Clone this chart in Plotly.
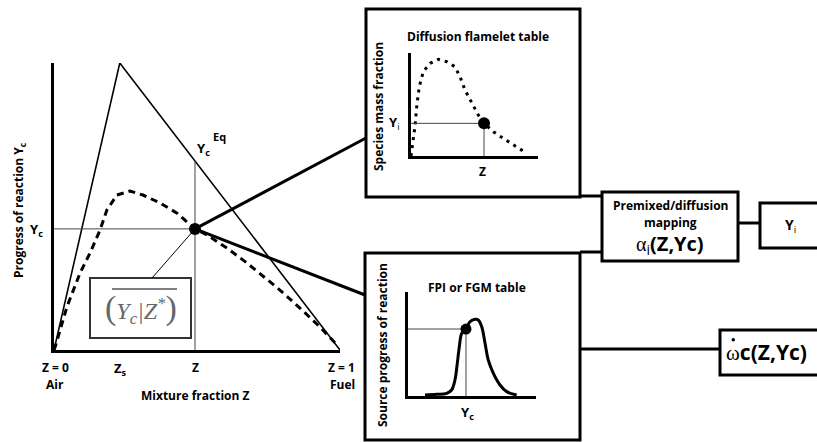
import plotly.graph_objects as go

W, H = 817, 442

# ---------------- data ----------------
# main diagram: equilibrium (triangle) line and the mixing/progress curve
eq_z = [0.0, 0.23, 1.0]
eq_yc = [0.0, 1.0, 0.0]
curve_z = [0.0, 0.004, 0.045, 0.091, 0.126, 0.161, 0.185, 0.220, 0.266, 0.311, 0.371,
           0.430, 0.476, 0.493, 0.535, 0.605, 0.675, 0.745, 0.790, 0.860, 0.930, 0.990]
curve_yc = [0.0, 0.010, 0.150, 0.268, 0.338, 0.418, 0.488, 0.540, 0.554, 0.540, 0.512,
            0.477, 0.436, 0.422, 0.401, 0.355, 0.303, 0.244, 0.209, 0.146, 0.080, 0.017]
point_z, point_yc = 0.493, 0.422

# diffusion flamelet table (species mass fraction vs Z)
fl_z = [0.0, 0.005, 0.018, 0.031, 0.045, 0.065, 0.097, 0.150, 0.215, 0.281, 0.346, 0.386,
        0.425, 0.465, 0.530, 0.575, 0.648, 0.727, 0.806, 0.911]
fl_y = [0.0, 0.042, 0.155, 0.284, 0.479, 0.673, 0.819, 0.900, 0.939, 0.915, 0.867, 0.770,
        0.641, 0.544, 0.398, 0.317, 0.236, 0.171, 0.107, 0.026]
fl_pt = (0.575, 0.317)

# FPI / FGM table (source term vs Yc)
fpi_x = [0.133, 0.224, 0.302, 0.341, 0.367, 0.385, 0.401, 0.420, 0.453, 0.484, 0.523,
         0.549, 0.576, 0.602, 0.627, 0.667, 0.719, 0.771, 0.849]
fpi_y = [0.010, 0.016, 0.026, 0.058, 0.154, 0.314, 0.474, 0.603, 0.644, 0.714, 0.737,
         0.731, 0.667, 0.506, 0.346, 0.218, 0.106, 0.042, 0.010]
fpi_pt = (0.453, 0.644)

# ---------------- layout helpers (pixel geometry) ----------------
def px(x):
    return x / W

def py(y):
    return 1 - y / H

MAIN = dict(x0=54, x1=340, y0=350, y1=63)      # pixel box of main axes
TOP = dict(x0=411, x1=538, y0=156, y1=53)
BOT = dict(x0=408, x1=536, y0=396, y1=292)

def dom(b):
    return [px(b["x0"]), px(b["x1"])], [py(b["y0"]), py(b["y1"])]

def to_paper(b, x, y):
    X = b["x0"] + x * (b["x1"] - b["x0"])
    Y = b["y0"] + y * (b["y1"] - b["y0"])
    return px(X), py(Y)

FONT = "'Open Sans', 'Noto Sans', sans-serif"
SERIF = "'Liberation Serif', 'DejaVu Serif', serif"
BLACK = "#000"
GREY = "#444"

fig = go.Figure()

# main traces
fig.add_trace(go.Scatter(x=eq_z, y=eq_yc, mode="lines", line=dict(color=BLACK, width=1.6),
                         xaxis="x", yaxis="y", cliponaxis=False, hoverinfo="skip"))
fig.add_trace(go.Scatter(x=curve_z, y=curve_yc, mode="lines",
                         line=dict(color=BLACK, width=3, dash="7px,5px"),
                         xaxis="x", yaxis="y", cliponaxis=False, hoverinfo="skip"))
eq_at_point = 1 - (point_z - eq_z[1]) / (eq_z[2] - eq_z[1])
fig.add_trace(go.Scatter(x=[point_z, point_z], y=[0, eq_at_point], mode="lines",
                         line=dict(color=GREY, width=1), xaxis="x", yaxis="y", hoverinfo="skip"))
fig.add_trace(go.Scatter(x=[0, point_z], y=[point_yc, point_yc], mode="lines",
                         line=dict(color=GREY, width=1), xaxis="x", yaxis="y", hoverinfo="skip"))
fig.add_trace(go.Scatter(x=[point_z], y=[point_yc], mode="markers",
                         marker=dict(color=BLACK, size=12), xaxis="x", yaxis="y",
                         cliponaxis=False, hoverinfo="skip"))

# flamelet inset
fig.add_trace(go.Scatter(x=fl_z, y=fl_y, mode="lines",
                         line=dict(color=BLACK, width=3, dash="3px,5px"),
                         xaxis="x2", yaxis="y2", cliponaxis=False, hoverinfo="skip"))
fig.add_trace(go.Scatter(x=[0, fl_pt[0], fl_pt[0]], y=[fl_pt[1], fl_pt[1], 0], mode="lines",
                         line=dict(color=GREY, width=1), xaxis="x2", yaxis="y2", hoverinfo="skip"))
fig.add_trace(go.Scatter(x=[fl_pt[0]], y=[fl_pt[1]], mode="markers",
                         marker=dict(color=BLACK, size=12), xaxis="x2", yaxis="y2",
                         cliponaxis=False, hoverinfo="skip"))

# FPI inset
fig.add_trace(go.Scatter(x=fpi_x, y=fpi_y, mode="lines", line=dict(color=BLACK, width=3, shape="spline"),
                         xaxis="x3", yaxis="y3", cliponaxis=False, hoverinfo="skip"))
fig.add_trace(go.Scatter(x=[0, fpi_pt[0], fpi_pt[0]], y=[fpi_pt[1], fpi_pt[1], 0], mode="lines",
                         line=dict(color=GREY, width=1), xaxis="x3", yaxis="y3", hoverinfo="skip"))
fig.add_trace(go.Scatter(x=[fpi_pt[0]], y=[fpi_pt[1]], mode="markers",
                         marker=dict(color=BLACK, size=11), xaxis="x3", yaxis="y3",
                         cliponaxis=False, hoverinfo="skip"))

def ax(domain, lw=3):
    return dict(domain=domain, range=[0, 1], showline=True, linecolor=BLACK, linewidth=lw,
                showgrid=False, zeroline=False, showticklabels=False, ticks="", fixedrange=True)

mdx, mdy = dom(MAIN)
tdx, tdy = dom(TOP)
bdx, bdy = dom(BOT)
layout = dict(
    width=W, height=H, margin=dict(l=0, r=0, t=0, b=0), hovermode=False,
    paper_bgcolor="white", plot_bgcolor="rgba(0,0,0,0)", showlegend=False,
    xaxis=ax(mdx), yaxis=ax(mdy),
    xaxis2=ax(tdx), yaxis2=ax(tdy),
    xaxis3=ax(bdx), yaxis3=ax(bdy),
)
layout["xaxis"]["anchor"] = "y"; layout["yaxis"]["anchor"] = "x"
layout["xaxis2"]["anchor"] = "y2"; layout["yaxis2"]["anchor"] = "x2"
layout["xaxis3"]["anchor"] = "y3"; layout["yaxis3"]["anchor"] = "x3"
fig.update_layout(**layout)

shapes = []

def rect(x0, y0, x1, y1, w=3, color=BLACK):
    shapes.append(dict(type="rect", xref="paper", yref="paper", x0=px(x0), x1=px(x1),
                       y0=py(y1), y1=py(y0), line=dict(color=color, width=w)))

def seg(x0, y0, x1, y1, w=3, color=BLACK, paper=False):
    if not paper:
        x0, y0, x1, y1 = px(x0), py(y0), px(x1), py(y1)
    shapes.append(dict(type="line", xref="paper", yref="paper", x0=x0, y0=y0, x1=x1, y1=y1,
                       line=dict(color=color, width=w)))

rect(366, 9, 580, 197)          # flamelet box
rect(365, 253, 580, 440)        # FPI box
rect(602, 192, 738, 261)        # mapping box
rect(760, 203, 830, 248)        # Yi box
rect(720, 330, 830, 375)        # omega box
rect(90, 278, 191, 338, w=2, color="#333")   # conditional mean box

seg(580, 196, 602, 196)
seg(580, 252, 602, 252)
seg(738, 223, 760, 223)
seg(580, 349, 720, 349)

dpx, dpy = to_paper(MAIN, point_z, point_yc)
seg(dpx, dpy, px(366), py(138), paper=True)
seg(dpx, dpy, px(365), py(295), paper=True)
seg(px(152), py(278), dpx, dpy, w=1, paper=True)
# overline of the conditional mean
seg(112, 289, 177, 289, w=1.3, color="#555")
# dot of omega-dot
shapes.append(dict(type="circle", xref="paper", yref="paper", x0=px(731.5), x1=px(735),
                   y0=py(341.5), y1=py(338), fillcolor=BLACK, line=dict(width=0)))

fig.update_layout(shapes=shapes)

ann = []

def text(x, y, s, size=12, angle=0, color=BLACK, family=FONT, xanchor="center"):
    ann.append(dict(x=px(x), y=py(y), xref="paper", yref="paper", text=s, showarrow=False,
                    textangle=angle, font=dict(size=size, color=color, family=family),
                    xanchor=xanchor, yanchor="middle"))

text(55, 367, "<b>Z = 0</b>", 12)
text(55, 384, "<b>Air</b>", 12)
text(120, 369, "<b>Z<sub>s</sub></b>", 13)
text(195, 367, "<b>Z</b>", 12)
text(195, 395, "<b>Mixture fraction Z</b>", 12)
text(341, 367, "<b>Z = 1</b>", 12)
text(342, 384, "<b>Fuel</b>", 12)
text(19, 210, "<b>Progress of reaction Y<sub>c</sub></b>", 12, angle=-90)
text(36, 230, "<b>Y<sub>c</sub></b>", 13)
text(203, 149, "<b>Y<sub>c</sub></b>", 13)
text(219, 136, "<b>Eq</b>", 11)
text(141, 308, "<span style='font-size:34px'>(</span><i>Y<sub>c</sub>|Z<sup>*</sup></i>"
     "<span style='font-size:34px'>)</span>", 24, color="#666", family=SERIF)

text(478, 36, "<b>Diffusion flamelet table</b>", 12)
text(378, 107, "<b>Species mass fraction</b>", 12, angle=-90)
text(394, 123, "<b>Y</b><sub>i</sub>", 13)
text(483, 172, "<b>Z</b>", 12)

text(477, 287, "<b>FPI or FGM table</b>", 12)
text(382, 345, "<b>Source progress of reaction</b>", 12, angle=-90)
text(467, 413, "<b>Y<sub>c</sub></b>", 13)

text(670, 205, "<b>Premixed/diffusion</b>", 12)
text(670, 222, "<b>mapping</b>", 12)
text(670, 244, "<span style='font-family:Liberation Serif'>α</span><sub>i</sub><b>(Z,Yc)</b>", 20)
text(790, 225, "<b>Y</b><sub>i</sub>", 14)
text(766, 352, "<span style='font-family:Liberation Serif'>ω</span><b>c(Z,Yc)</b>", 21)

fig.update_layout(annotations=ann)

fig.write_html("out.html", post_script="document.body.style.margin='0';",
               config=dict(displayModeBar=False, staticPlot=True))
